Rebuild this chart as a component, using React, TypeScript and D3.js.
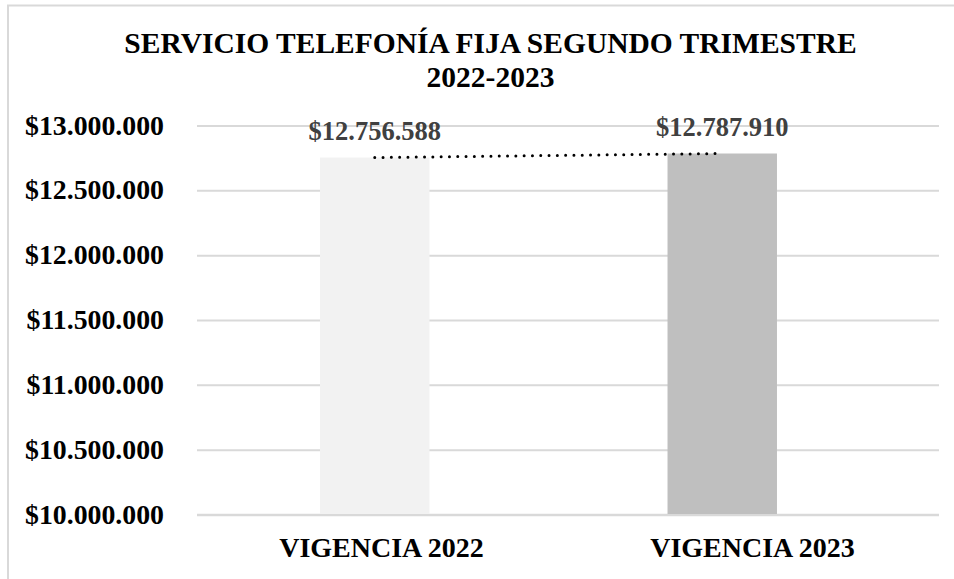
import React from "react";
import * as d3 from "d3";

const titleLines = ["SERVICIO TELEFONÍA FIJA SEGUNDO TRIMESTRE", "2022-2023"];
const categories = ["VIGENCIA 2022", "VIGENCIA 2023"];
const values = [12756588, 12787910];
const barColors = ["#f2f2f2", "#bfbfbf"];
const yTicks = [10000000, 10500000, 11000000, 11500000, 12000000, 12500000, 13000000];

const W = 954;
const H = 579;
const FONT = "'Liberation Serif', 'Times New Roman', serif";

const locale = d3.formatLocale({
  decimal: ",",
  thousands: ".",
  grouping: [3],
  currency: ["$", ""],
});
const fmt = locale.format("$,.0f");

export default function App() {
  const plotLeft = 197;
  const plotRight = 939;
  const y = d3.scaleLinear().domain([10000000, 13000000]).range([515, 126]);
  const xAxis = d3.scaleBand().domain(categories).range([plotLeft, plotRight]);
  const xBar = d3.scaleBand().domain(categories).range([201, 896]);
  const barW = xBar.bandwidth() * 0.315;

  const pts = categories.map((c, i) => [xBar(c)! + xBar.bandwidth() / 2, y(values[i])] as [number, number]);
  const line = d3.line()(pts) || "";

  return (
    <svg width={W} height={H} style={{ position: "absolute", left: 0, top: 0, background: "#fff" }}>
      <rect x={8} y={5.5} width={W + 20} height={H + 20} fill="#fff" stroke="#d9d9d9" strokeWidth={2} />
      {titleLines.map((t, i) => (
        <text key={i} x={490.5} y={53 + i * 34} textAnchor="middle" fontFamily={FONT} fontWeight="bold" fontSize={29.5} fill="#000">
          {t}
        </text>
      ))}
      {yTicks.map((t, i) => (
        <g key={t}>
          <line x1={plotLeft} x2={plotRight} y1={y(t)} y2={y(t)} stroke="#d9d9d9" strokeWidth={i === 0 ? 2.5 : 2} />
          <text x={164} y={y(t) + 8.5} textAnchor="end" fontFamily={FONT} fontWeight="bold" fontSize={27.8} fill="#000">
            {fmt(t)}
          </text>
        </g>
      ))}
      {categories.map((c, i) => {
        const cx = xBar(c)! + xBar.bandwidth() / 2;
        return (
          <g key={c}>
            <rect x={cx - barW / 2} y={y(values[i])} width={barW} height={y(10000000) - y(values[i]) - 1} fill={barColors[i]} />
            <text x={cx} y={y(values[i]) - 17.5} textAnchor="middle" fontFamily={FONT} fontWeight="bold" fontSize={26.5} fill="#404040">
              {fmt(values[i])}
            </text>
            <text x={xAxis(c)! + xAxis.bandwidth() / 2 - 1} y={557} textAnchor="middle" fontFamily={FONT} fontWeight="bold" fontSize={28} fill="#000">
              {c}
            </text>
          </g>
        );
      })}
      <path d={line} fill="none" stroke="#000" strokeWidth={3} strokeLinecap="round" strokeDasharray="0 8.3" />
    </svg>
  );
}
